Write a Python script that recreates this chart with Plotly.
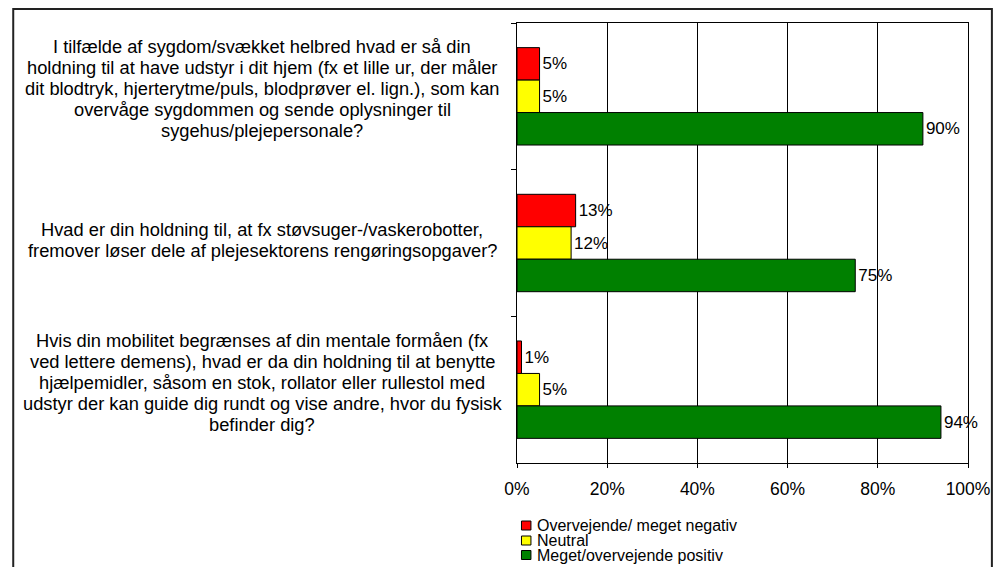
import plotly.graph_objects as go

# ---- data ----
categories = ["Q1", "Q2", "Q3"]
category_lines = [
    ["I tilfælde af sygdom/svækket helbred hvad er så din",
     "holdning til at have udstyr i dit hjem (fx et lille ur, der måler",
     "dit blodtryk, hjerterytme/puls, blodprøver el. lign.), som kan",
     "overvåge sygdommen og sende oplysninger til",
     "sygehus/plejepersonale?"],
    ["Hvad er din holdning til, at fx støvsuger-/vaskerobotter,",
     "fremover løser dele af plejesektorens rengøringsopgaver?"],
    ["Hvis din mobilitet begrænses af din mentale formåen (fx",
     "ved lettere demens), hvad er da din holdning til at benytte",
     "hjælpemidler, såsom en stok, rollator eller rullestol med",
     "udstyr der kan guide dig rundt og vise andre, hvor du fysisk",
     "befinder dig?"],
]
series_names = ["Overvejende/ meget negativ", "Neutral", "Meget/overvejende positiv"]
negative = [5, 13, 1]
neutral = [5, 12, 5]
positive = [90, 75, 94]
series_values = [negative, neutral, positive]
x_tick_values = [0, 20, 40, 60, 80, 100]
x_tick_labels = ["0%", "20%", "40%", "60%", "80%", "100%"]

# ---- styling ----
colors = ["#FF0000", "#FFFF00", "#008000"]
label_shift = [8, 3, 7]  # vertical nudge (px) of each category label block
FONT = "Liberation Sans, Arial, Helvetica, sans-serif"
OFF = 8  # default page body margin
W, H = 994, 559
ML, MT = 517 - OFF, 15
PW, PH = 453, 440
MR, MB = W - ML - PW, H - MT - PH


def xp(px):
    # screen pixel -> paper x
    return (px - OFF - ML) / PW


def yp(py):
    # screen pixel -> paper y
    return (MT + PH - (py - OFF)) / PH


fig = go.Figure()
for name, vals, col in zip(series_names, series_values, colors):
    fig.add_trace(go.Bar(
        y=categories, x=vals, name=name, orientation="h",
        marker=dict(color=col, line=dict(color="#000000", width=1)),
        text=[f"{v}%" for v in vals], textposition="outside",
        textfont=dict(family=FONT, size=17, color="#000000"),
        cliponaxis=False, constraintext="none", showlegend=False,
    ))

annotations = []
LINE_H = 21
for cat, lines, sh in zip(categories, category_lines, label_shift):
    n = len(lines)
    for i, line in enumerate(lines):
        annotations.append(dict(
            x=xp(261), xref="paper", y=cat, yref="y",
            text=line, showarrow=False, xanchor="center", yanchor="middle",
            yshift=((n - 1) / 2 - i) * LINE_H + sh,
            font=dict(family=FONT, size=18.3, color="#000000"),
        ))

shapes = []
legend_centers = [525.5, 540.5, 555]
for name, col, cy in zip(series_names, colors, legend_centers):
    shapes.append(dict(type="rect", xref="paper", yref="paper",
                       x0=xp(521.5), x1=xp(531), y0=yp(cy - 4.5), y1=yp(cy + 4.5),
                       fillcolor=col, line=dict(color="#000000", width=1)))
    annotations.append(dict(
        x=xp(535), xref="paper", y=yp(cy), yref="paper", text=name,
        showarrow=False, xanchor="left", yanchor="middle",
        font=dict(family=FONT, size=16, color="#000000"),
    ))

# outer chart frame
shapes.append(dict(type="rect", xref="paper", yref="paper",
                   x0=xp(11), x1=xp(994), y0=yp(620), y1=yp(9),
                   line=dict(color="#222222", width=2), fillcolor="rgba(0,0,0,0)"))

fig.update_layout(
    width=W, height=H,
    margin=dict(l=ML, r=MR, t=MT, b=MB, pad=0),
    paper_bgcolor="white", plot_bgcolor="white",
    barmode="group", bargap=0.336, bargroupgap=0,
    font=dict(family=FONT, size=17, color="#000000"),
    annotations=annotations, shapes=shapes, showlegend=False,
    xaxis=dict(
        range=[0, 100], tickvals=x_tick_values, ticktext=x_tick_labels,
        showgrid=True, gridcolor="#000000", gridwidth=1,
        showline=True, linecolor="#000000", linewidth=1, mirror=True,
        ticks="outside", ticklen=4, tickcolor="#000000", ticklabelstandoff=6,
        tickfont=dict(family=FONT, size=17.5, color="#000000"),
        zeroline=False, fixedrange=True,
    ),
    yaxis=dict(
        categoryorder="array", categoryarray=categories, autorange="reversed",
        showticklabels=False, showgrid=False,
        showline=True, linecolor="#000000", linewidth=1, mirror=True,
        ticks="outside", ticklen=5, tickcolor="#000000", tickson="boundaries",
        zeroline=False, fixedrange=True,
    ),
)

fig.write_html("out.html")
